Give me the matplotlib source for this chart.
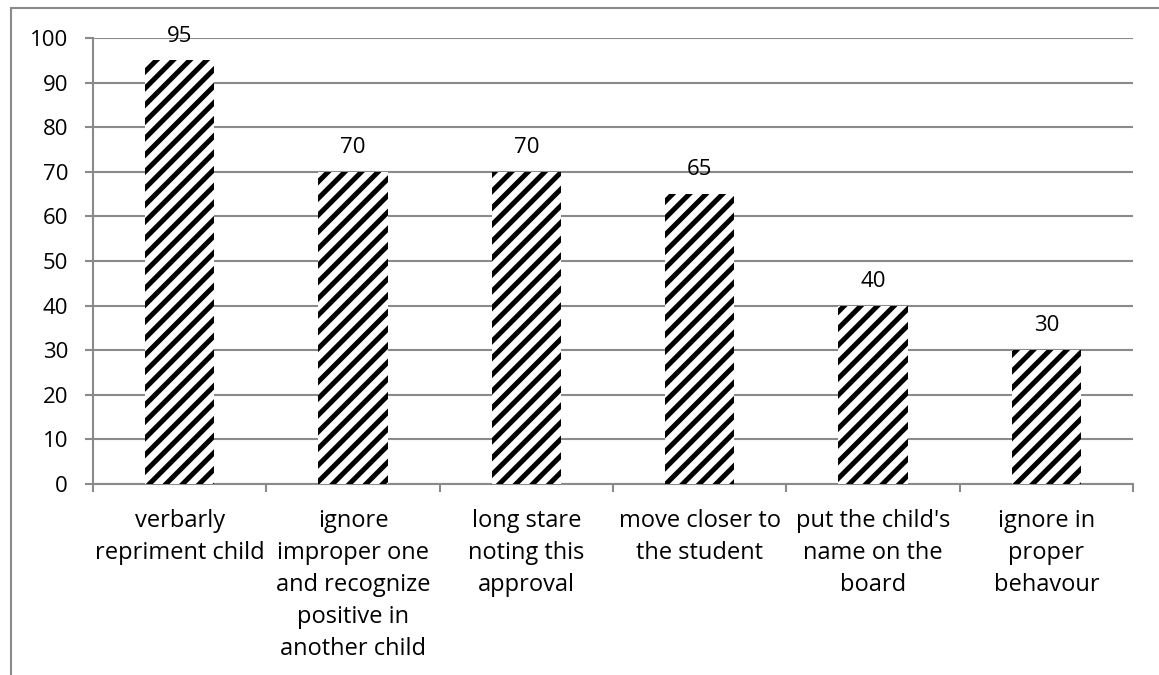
import matplotlib
matplotlib.use('Agg')
import matplotlib.pyplot as plt
from matplotlib.patches import Rectangle
import numpy as np

categories = [
    "verbarly\nrepriment child",
    "ignore\nimproper one\nand recognize\npositive in\nanother child",
    "long stare\nnoting this\napproval",
    "move closer to\nthe student",
    "put the child's\nname on the\nboard",
    "ignore in\nproper\nbehavour",
]
values = [95, 70, 70, 65, 40, 30]
yticks = [0, 10, 20, 30, 40, 50, 60, 70, 80, 90, 100]

plt.rcParams['font.family'] = ['Open Sans', 'DejaVu Sans']
plt.rcParams['hatch.linewidth'] = 3.6

grey = '#8a8a8a'
fs = 17

fig = plt.figure(figsize=(11.59, 6.75), dpi=100)
ax = fig.add_axes([93 / 1159, 1 - 484 / 675, (1133 - 93) / 1159, (484 - 38) / 675])

# outer chart border, runs off the right and bottom edges
fig.patches.append(Rectangle((11 / 1159, -0.1), 1.2, 1 - 8 / 675 + 0.1,
                             transform=fig.transFigure, fill=False,
                             edgecolor=grey, linewidth=1.5))

x = np.arange(len(categories))
bars = ax.bar(x, values, width=0.4, color='white', edgecolor='black',
              linewidth=0, hatch='//', zorder=3)

for b, v in zip(bars, values):
    ax.annotate(str(v), (b.get_x() + b.get_width() / 2, v),
                xytext=(0, 13.5), textcoords='offset points',
                ha='center', va='baseline', fontsize=16, color='black')

ax.set_xlim(-0.5, len(categories) - 0.5)
ax.set_ylim(0, 100)
ax.set_yticks(yticks)
ax.set_yticklabels([str(t) for t in yticks], fontsize=16)
ax.set_xticks(x)
ax.set_xticklabels(categories, fontsize=fs, linespacing=1.45, va='top')
ax.set_xticks(np.arange(len(categories) + 1) - 0.5, minor=True)

ax.tick_params(axis='x', which='major', length=0, pad=18)
ax.tick_params(axis='x', which='minor', length=6, width=1.5, color=grey)
ax.tick_params(axis='y', length=6, width=1.5, color=grey, pad=12)

ax.grid(axis='y', color=grey, linewidth=1.5, zorder=0)
ax.set_axisbelow(True)
for s in ['top', 'right']:
    ax.spines[s].set_visible(False)
for s in ['left', 'bottom']:
    ax.spines[s].set_color(grey)
    ax.spines[s].set_linewidth(1.5)

fig.savefig('out.png', dpi=100)
